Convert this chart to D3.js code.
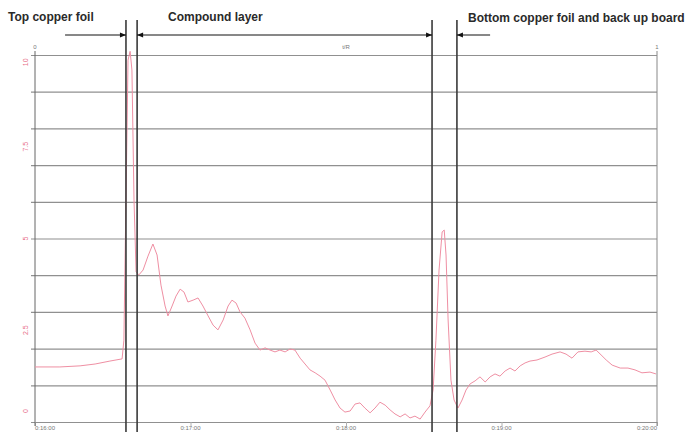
<!DOCTYPE html>
<meta charset="utf-8">
<html>
<head>
<script src="https://d3js.org/d3.v7.min.js" charset="utf-8"></script>
<style>
body { margin: 0; background: #fff; }
.title { font: bold 12px "Liberation Sans", Arial, sans-serif; fill: #2a2a2a; }
.tick-lbl { font: 6px "Liberation Sans", Arial, sans-serif; fill: #777; }
.ylbl { font: 7px "Liberation Sans", Arial, sans-serif; fill: #e8708a; }
</style>
</head>
<body>
<svg width="692" height="432"></svg>
<script type="text/javascript">
// time in seconds from the left edge, signal in grid units
var timeVals = [0, 9.6, 17.4, 23.2, 28.9, 33.6, 34.3, 35.1, 35.9, 36.7, 37.4, 38.2, 39.0, 40.1, 41.7, 43.6, 45.5, 47.1, 48.6, 50.2,
  51.3, 52.9, 54.4, 56.0, 57.5, 59.0, 61.0, 62.9, 64.8, 66.8, 68.7, 70.6, 72.6, 74.5, 76.0, 77.6, 79.1, 81.0, 83.0, 84.9,
  86.8, 88.8, 90.7, 92.6, 94.5, 96.5, 98.4, 100.3, 102.3, 104.2, 106.1, 108.1, 110.0, 111.9, 113.9, 115.8, 117.7, 119.6, 121.6, 123.5,
  125.4, 127.3, 129.3, 131.2, 133.1, 135.1, 137.0, 138.9, 140.9, 142.8, 144.7, 146.6, 148.6, 150.5, 152.4, 153.6, 154.7, 155.9, 157.1, 157.9,
  158.6, 159.4, 160.5, 161.7, 163.2, 164.8, 166.3, 167.9, 169.8, 171.7, 173.7, 175.6, 177.5, 179.4, 181.4, 183.3, 185.2, 187.2, 189.1, 191.0,
  193.7, 196.8, 199.5, 202.6, 204.9, 207.2, 209.5, 212.2, 214.6, 216.5, 218.4, 220.4, 222.7, 225.8, 228.8, 231.5, 234.2, 237.3, 239.6];
var signalVals = [1.50, 1.50, 1.53, 1.58, 1.66, 1.72, 2.23, 6.05, 9.86, 10.1, 9.59, 6.05, 4.09, 4.01, 4.14, 4.52, 4.85, 4.55, 3.73, 3.16,
  2.89, 3.16, 3.43, 3.62, 3.54, 3.27, 3.32, 3.38, 3.16, 2.89, 2.64, 2.51, 2.78, 3.16, 3.32, 3.24, 3.00, 2.83, 2.51, 2.15,
  1.96, 2.02, 1.96, 1.91, 1.96, 1.91, 1.99, 1.96, 1.74, 1.58, 1.42, 1.34, 1.25, 1.14, 0.87, 0.60, 0.38, 0.27, 0.30, 0.49,
  0.52, 0.38, 0.25, 0.38, 0.54, 0.46, 0.33, 0.22, 0.14, 0.22, 0.11, 0.16, 0.08, 0.27, 0.44, 0.87, 2.23, 4.14, 5.18, 5.23,
  4.55, 2.78, 1.14, 0.60, 0.38, 0.60, 0.87, 1.04, 1.12, 1.23, 1.09, 1.23, 1.31, 1.25, 1.39, 1.47, 1.39, 1.53, 1.61, 1.66,
  1.69, 1.77, 1.85, 1.91, 1.85, 1.74, 1.91, 1.93, 1.91, 1.96, 1.83, 1.69, 1.55, 1.47, 1.47, 1.42, 1.34, 1.36, 1.31];

var xTicks = [0, 60, 120, 180, 240];
var xTickLabels = ["0:16:00", "0:17:00", "0:18:00", "0:19:00", "0:20:00"];
var yLabelVals = [9.8, 7.5, 5, 2.5, 0.3];
var yLabels = ["10", "7.5", "5", "2.5", "0"];

var layerBounds = [35.1, 39.4, 153.2, 162.8];
var layerNames = ["Top copper foil", "Compound layer", "Bottom copper foil and back up board"];

var svg = d3.select("svg"),
    margin = {top: 55, right: 35, bottom: 10, left: 35},
    width = +svg.attr("width") - margin.left - margin.right,
    height = +svg.attr("height") - margin.top - margin.bottom,
    g = svg.append("g").attr("transform", "translate(" + margin.left + "," + margin.top + ")");

var x = d3.scaleLinear().domain([0, 240]).range([0, width]);
var y = d3.scaleLinear().domain([0, 10]).range([height, 0]);

// horizontal grid
g.append("g")
  .call(d3.axisLeft(y).tickValues(d3.range(0, 11)).tickSize(-width).tickFormat(""))
  .call(function(a) {
    a.select(".domain").remove();
    a.selectAll("line").attr("stroke", "#909090").attr("stroke-width", 1.2).attr("x1", -4);
  });

// vertical grid
g.append("g")
  .attr("transform", "translate(0," + height + ")")
  .call(d3.axisBottom(x).tickValues(xTicks).tickSize(-height).tickFormat(""))
  .call(function(a) {
    a.select(".domain").remove();
    a.selectAll("line").attr("stroke", "#b0b0b0").attr("y2", 4);
  });

// frame left and right
g.append("line").attr("x1", x(0)).attr("x2", x(0)).attr("y1", -4).attr("y2", height + 4).attr("stroke", "#666");
g.append("line").attr("x1", x(240)).attr("x2", x(240)).attr("y1", -4).attr("y2", height + 4).attr("stroke", "#888");

// bottom tick labels
g.selectAll(".tick-lbl").data(xTicks).enter().append("text")
  .attr("class", "tick-lbl")
  .attr("x", function(d) { return x(d); })
  .attr("y", height + 8)
  .attr("text-anchor", function(d, i) { return i == 0 ? "start" : (i == xTicks.length - 1 ? "end" : "middle"); })
  .text(function(d, i) { return xTickLabels[i]; });

// pink left labels
g.selectAll(".ylbl").data(yLabelVals).enter().append("text")
  .attr("class", "ylbl")
  .attr("transform", function(d) { return "translate(-7," + y(d) + ") rotate(-90)"; })
  .attr("text-anchor", "middle")
  .text(function(d, i) { return yLabels[i]; });

// small top labels
g.append("text").attr("class", "tick-lbl").attr("x", x(0)).attr("y", -6).attr("text-anchor", "middle").text("0");
g.append("text").attr("class", "tick-lbl").attr("x", x(120)).attr("y", -6).attr("text-anchor", "middle").text("t/R");
g.append("text").attr("class", "tick-lbl").attr("x", x(240)).attr("y", -6).attr("text-anchor", "middle").text("1");

// signal curve
var pts = timeVals.map(function(t, i) { return [t, signalVals[i]]; });
g.append("path")
  .datum(pts)
  .attr("fill", "none")
  .attr("stroke", "#ef8fa3")
  .attr("stroke-width", 1)
  .attr("d", d3.line().x(function(d) { return x(d[0]); }).y(function(d) { return y(d[1]); }));

// layer boundary lines
g.selectAll(".bound").data(layerBounds).enter().append("line")
  .attr("class", "bound")
  .attr("x1", function(d) { return x(d); })
  .attr("x2", function(d) { return x(d); })
  .attr("y1", -35)
  .attr("y2", height + 12)
  .attr("stroke", "#3a3a3a")
  .attr("stroke-width", 1.6);

// arrows
var defs = svg.append("defs");
defs.append("marker").attr("id", "ah").attr("viewBox", "0 0 10 10").attr("refX", 10).attr("refY", 5)
  .attr("markerWidth", 8).attr("markerHeight", 6).attr("orient", "auto-start-reverse")
  .append("path").attr("d", "M0,1L10,5L0,9Z").attr("fill", "#111");

var arrowY = -20;
g.append("line").attr("x1", x(11.6)).attr("x2", x(layerBounds[0])).attr("y1", arrowY).attr("y2", arrowY)
  .attr("stroke", "#111").attr("stroke-width", 1).attr("marker-end", "url(#ah)");
g.append("line").attr("x1", x(layerBounds[1])).attr("x2", x(layerBounds[2])).attr("y1", arrowY).attr("y2", arrowY)
  .attr("stroke", "#111").attr("stroke-width", 1).attr("marker-start", "url(#ah)").attr("marker-end", "url(#ah)");
g.append("line").attr("x1", x(175.6)).attr("x2", x(layerBounds[3])).attr("y1", arrowY).attr("y2", arrowY)
  .attr("stroke", "#111").attr("stroke-width", 1).attr("marker-end", "url(#ah)");

// layer titles
svg.append("text").attr("class", "title").attr("x", 8).attr("y", 21).text(layerNames[0]);
svg.append("text").attr("class", "title").attr("x", 168).attr("y", 21).text(layerNames[1]);
svg.append("text").attr("class", "title").attr("x", 468).attr("y", 22).text(layerNames[2]);
</script>
</body>
</html>
